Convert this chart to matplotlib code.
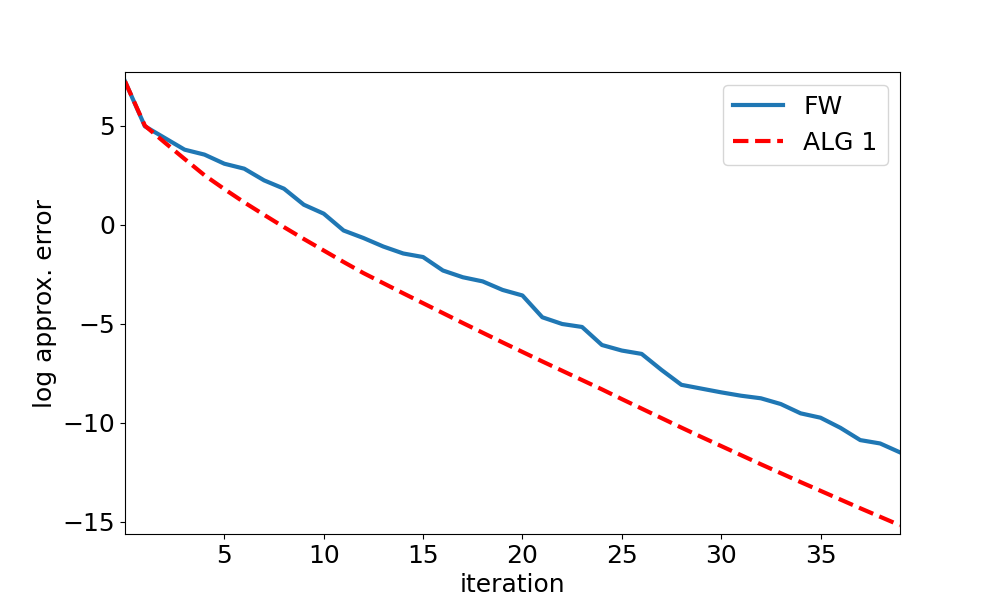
import numpy as np
import matplotlib
matplotlib.use("Agg")
import matplotlib.pyplot as plt

# iterations
iters = np.arange(40)

# log approx. error
fw_err = [7.24, 4.97, 4.38, 3.79, 3.54, 3.08, 2.83, 2.24, 1.82, 1.01,
          0.56, -0.29, -0.67, -1.10, -1.45, -1.63, -2.31, -2.65, -2.86, -3.29,
          -3.57, -4.67, -5.01, -5.16, -6.07, -6.35, -6.52, -7.33, -8.08, -8.27,
          -8.46, -8.63, -8.76, -9.05, -9.52, -9.74, -10.25, -10.87, -11.04, -11.49]

alg1_err = [7.24, 5.00, 4.15, 3.32, 2.50, 1.80, 1.13, 0.50, -0.12, -0.72,
            -1.30, -1.88, -2.44, -2.95, -3.46, -3.96, -4.46, -4.96, -5.45, -5.94,
            -6.42, -6.90, -7.37, -7.84, -8.31, -8.80, -9.28, -9.76, -10.24, -10.71,
            -11.17, -11.63, -12.09, -12.54, -12.99, -13.43, -13.87, -14.31, -14.74, -15.17]

plt.figure(figsize=(10, 6), dpi=100)

plt.plot(iters, fw_err, color='tab:blue', linewidth=3, label='FW')
plt.plot(iters, alg1_err, color='red', linestyle='dashed', linewidth=3, label='ALG 1')

plt.xlim(0, 39)
plt.ylim(-15.61, 7.71)
plt.xticks([5, 10, 15, 20, 25, 30, 35], fontsize=18)
plt.yticks([-15, -10, -5, 0, 5], fontsize=18)

plt.xlabel("iteration", fontsize=18)
plt.ylabel("log approx. error", fontsize=18)
plt.legend(fontsize=18, loc='upper right')

plt.savefig("out.png")
